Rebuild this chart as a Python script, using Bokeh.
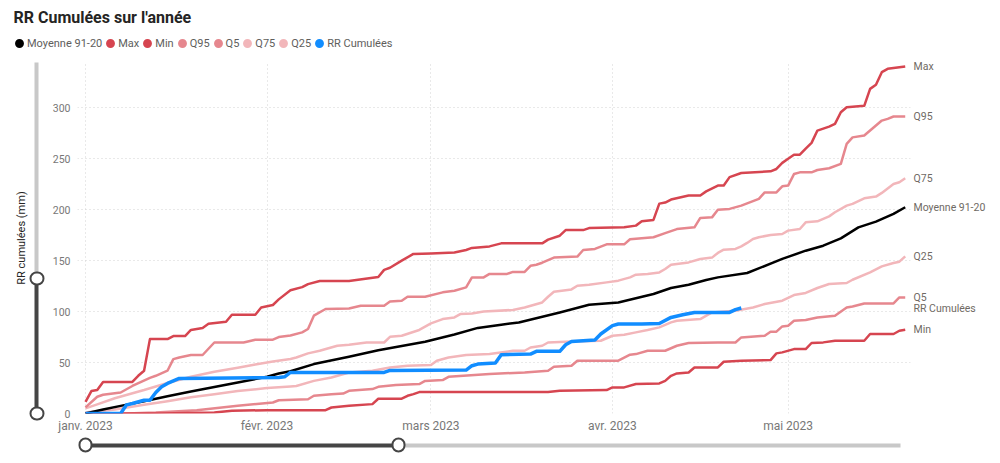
import pandas as pd
from bokeh.plotting import figure
from bokeh.layouts import column
from bokeh.models import (Range1d, FixedTicker, CustomJSTickFormatter, Legend,
                          LegendItem, LinearAxis)
from bokeh.embed import file_html
from bokeh.resources import INLINE

# ---------------- data (day offset from 1 Jan 2023, cumulated rain mm) ----------------
START = "2023-01-01"
MONTH_TICKS = ["2023-01-01", "2023-02-01", "2023-03-01", "2023-04-01", "2023-05-01"]
MONTH_NAMES = ["janv.", "févr.", "mars", "avr.", "mai", "juin",
               "juil.", "août", "sept.", "oct.", "nov.", "déc."]
Y_TICKS = [0, 50, 100, 150, 200, 250, 300]

MOYENNE = [(0, 0), (3, 4), (6, 7.5), (10, 12), (14, 17), (18, 21.5), (22, 26), (26, 30.5),
           (31, 36), (33, 39.3), (35, 41.5), (39, 48.5), (45, 55.7), (50, 62), (58, 70.5),
           (63, 77.5), (67, 84), (71, 87.1), (74, 89.4), (81, 99.2), (86, 106.8), (91, 109),
           (97, 117.3), (100, 123.2), (103, 126.4), (106, 131), (108, 133.6), (113, 137.9),
           (119, 151.7), (123, 159.8), (126, 164.7), (129, 171.9), (132, 182.7), (135, 188.3),
           (138, 195.9), (140, 202.4)]

MAX = [(0, 11.5), (1, 22), (2, 23), (3, 31), (8, 31), (9, 37), (10, 42), (11, 73), (14, 73),
       (15, 76), (17, 76), (18, 82), (20, 84), (21, 88), (24, 90), (25, 97), (29, 97), (30, 104),
       (32, 106.5), (33, 112), (35, 121), (37, 124), (38, 127), (40, 130), (45, 130), (50, 134),
       (51, 141), (52, 143), (54, 150), (56, 156.6), (59, 157), (63, 158), (65, 160.5),
       (66, 162.5), (69, 164), (71, 167), (78, 167), (79, 170.6), (81, 174.5), (82, 180),
       (85, 180), (86, 182), (92, 182.7), (94, 184.4), (95, 188.6), (97, 190), (98, 206),
       (99, 207), (100, 210), (103, 214), (105, 214), (106, 218), (108, 223.7), (109, 223.7),
       (110, 232), (112, 236), (117, 237.7), (118, 240), (119, 246), (120, 250), (121, 254),
       (122, 254), (123, 260), (124, 265.6), (125, 277.7), (127, 281.6), (128, 284.3),
       (129, 295.7), (130, 300.6), (133, 302), (134, 318.6), (135, 322.6), (136, 335),
       (137, 338.3), (140, 340.6)]

MIN = [(0, 0), (13, 0), (22, 1), (25, 2.6), (31, 3.3), (41, 3.3), (42, 5.9), (45, 7.6),
       (49, 9.2), (50, 14.5), (54, 14.5), (55, 17.4), (56, 19), (57, 21), (79, 21), (81, 22.3),
       (89, 23), (90, 25.6), (92, 25.6), (94, 28.9), (98, 29.5), (99, 32), (100, 37),
       (101, 39.3), (103, 40.3), (104, 45.2), (108, 45.2), (109, 50.8), (112, 51.8),
       (117, 52.4), (118, 59), (119, 60), (121, 63.2), (123, 63.2), (124, 69.2), (126, 69.8),
       (128, 71.4), (133, 71.4), (134, 78), (138, 78), (139, 81.2), (140, 82.2)]

Q95 = [(0, 6), (2, 16.4), (3, 18.4), (6, 20.6), (8, 27), (11, 35), (12, 37), (14, 42),
       (15, 53.4), (16, 55), (18, 57.4), (20, 57.4), (22, 69.7), (27, 69.7), (29, 72.4),
       (32, 72.4), (33, 75), (35, 76.5), (37, 79.6), (38, 82.9), (39, 96), (41, 102.6),
       (45, 103), (47, 105.8), (51, 105.8), (52, 110), (54, 110.7), (55, 114.6), (58, 114.6),
       (61, 118.9), (63, 120.5), (65, 123.8), (66, 133.6), (68, 133.6), (69, 137), (72, 137),
       (73, 139), (75, 139), (76, 145), (77, 146), (78, 148), (80, 153), (84, 154),
       (85, 160.5), (87, 161.5), (89, 166), (92, 166), (93, 171), (97, 173), (99, 177),
       (101, 181), (104, 182.7), (105, 192), (107, 192.5), (108, 200), (110, 200.8),
       (112, 204), (115, 210.6), (116, 217), (118, 217), (119, 223), (120, 223.7), (121, 235),
       (122, 236.7), (124, 236.7), (125, 239), (127, 240.7), (129, 245), (130, 264.6),
       (131, 271), (133, 272.8), (134, 277.7), (136, 287.5), (137, 289.2), (138, 291.5),
       (140, 291.5)]

Q5 = [(0, 0), (7, 0), (12, 1), (19, 3.3), (26, 7.6), (32, 10.8), (33, 13), (38, 14),
      (39, 17.4), (42, 19), (44, 19.6), (45, 22.3), (49, 24), (50, 26.2), (53, 27.9),
      (57, 28.9), (58, 32), (61, 32.8), (62, 36), (69, 38.7), (75, 40.3), (79, 42), (80, 45.9),
      (83, 46.9), (84, 51.8), (91, 51.8), (93, 57.7), (94, 58.3), (96, 61.6), (99, 61.6),
      (101, 66.5), (103, 69.2), (108, 69.7), (111, 69.7), (112, 74.7), (116, 76.3),
      (117, 80.3), (118, 80.3), (119, 85.5), (120, 86.2), (121, 91), (123, 91.7), (125, 94.3),
      (128, 96), (130, 104.1), (131, 105.1), (133, 108), (138, 108), (139, 113.9), (140, 113.9)]

Q75 = [(0, 5), (2, 9), (5, 15), (10, 23), (14, 30), (18, 36), (22, 41), (26, 45), (29, 48),
       (32, 51), (35, 53.5), (36, 55), (38, 59), (40, 61.6), (43, 66.5), (45, 67.5), (48, 69.7),
       (51, 69.7), (52, 75.3), (54, 76.3), (57, 82), (59, 88.4), (61, 92.7), (63, 94.3),
       (64, 97.6), (66, 98.2), (68, 100.2), (73, 101.6), (75, 104), (78, 109), (79, 114.6),
       (80, 119.5), (83, 121.8), (84, 125.4), (86, 126.4), (89, 128.7), (91, 130.4),
       (93, 133.6), (94, 136.2), (96, 137), (98, 138.5), (99, 141.8), (100, 146), (103, 148.3),
       (105, 151.7), (107, 153), (108, 157.6), (109, 160.8), (111, 161.5), (112, 164),
       (113, 167.4), (114, 171.3), (115, 173), (117, 175.2), (119, 176.2), (120, 179.5),
       (122, 181.1), (123, 187.6), (125, 188.6), (127, 193.5), (128, 197.5), (130, 204),
       (131, 205.7), (133, 211.2), (135, 212.9), (136, 216.5), (138, 225.3), (139, 227),
       (140, 230.9)]

Q25 = [(0, 1), (5, 4), (10, 8.5), (14, 12), (18, 16), (22, 19), (26, 22), (31, 25),
       (35, 26.5), (36, 27), (39, 32), (42, 35.4), (45, 40.3), (49, 42), (52, 45.2), (55, 46.9),
       (59, 47.5), (60, 51.8), (62, 55), (65, 57.5), (69, 58.3), (73, 61.6), (75, 61.6),
       (76, 64.8), (78, 66.5), (79, 69.7), (83, 70.7), (88, 71.4), (90, 76.3), (92, 77.3),
       (94, 79.6), (96, 81.9), (98, 84.5), (100, 89.4), (101, 91), (105, 92.7), (107, 99.2),
       (111, 100.9), (114, 104.1), (116, 107.5), (119, 110.7), (121, 116.3), (123, 118.3),
       (125, 123.2), (127, 127.1), (130, 128.1), (131, 131.3), (134, 138.5), (136, 144.4),
       (138, 147.7), (139, 149), (140, 154.2)]

RR = [(0, 0), (6, 0), (7, 8.5), (8, 9.8), (10, 13), (11, 13), (12, 20.6), (13, 26.2),
      (14, 29.5), (16, 34.4), (33, 35.4), (34, 36), (35, 40.3), (51, 40.3), (52, 42.3),
      (65, 42.6), (66, 46.9), (67, 48.5), (70, 49.5), (71, 57.7), (76, 58.3), (77, 61),
      (81, 61), (82, 67.5), (83, 70.7), (87, 72.1), (88, 78), (90, 86.2), (91, 87.8),
      (95, 87.8), (98, 88.4), (100, 94.3), (102, 96.9), (104, 99.2), (110, 99.2),
      (111, 101.9), (112, 103.5)]

# zoom-slider state shown by the report (x in days, y in mm)
X_SLIDER = (0, 53.5, 139.2)     # selection start, selection end, track end
Y_SLIDER = (0, 132.5, 344.5)

# ---------------- styling ----------------
C_DARK = "#D64550"
C_MID = "#E6878E"
C_LIGHT = "#F2B6BA"
C_BLUE = "#118DFF"
C_BLACK = "#000000"
FONT = "Roboto"
SL_DARK, SL_LIGHT = "#454545", "#C8C8C8"

# (name, data, color, width) in drawing order
SERIES = [
    ("Q25", Q25, C_LIGHT, 2.5),
    ("Q75", Q75, C_LIGHT, 2.5),
    ("Q5", Q5, C_MID, 2.5),
    ("Q95", Q95, C_MID, 2.5),
    ("Min", MIN, C_DARK, 2.5),
    ("Max", MAX, C_DARK, 2.5),
    ("Moyenne 91-20", MOYENNE, C_BLACK, 2.5),
    ("RR Cumulées", RR, C_BLUE, 3.5),
]
LEGEND_ORDER = ["Moyenne 91-20", "Max", "Min", "Q95", "Q5", "Q75", "Q25", "RR Cumulées"]

t0 = pd.Timestamp(START)
X_START = t0 - pd.Timedelta(days=1.37)
X_END = t0 + pd.Timedelta(days=140.9)
Y_END = 344.5


def day_ms(d):
    return (t0 + pd.Timedelta(days=d)).value / 1e6


def to_xy(pairs):
    return [t0 + pd.Timedelta(days=d) for d, _ in pairs], [v for _, v in pairs]


# ================= header: title + legend =================
head = figure(width=1000, height=55, x_range=Range1d(0, 1), y_range=Range1d(0, 1),
              x_axis_location=None, y_axis_location=None,
              output_backend="svg", toolbar_location=None, min_border=0)
try:
    head.frame_align = False
except AttributeError:
    pass
head.grid.visible = False
head.outline_line_color = None
head.background_fill_color = "white"
head.border_fill_color = "white"
head.title.text = "RR Cumulées sur l'année"
head.title.text_font = FONT
head.title.text_font_size = "16px"
head.title.text_font_style = "bold"
head.title.text_color = "#252423"
head.title.align = "left"
head.title.offset = 13

colors = {n: c for n, _, c, _ in SERIES}
NAN = float("nan")
items = []
for name in LEGEND_ORDER:
    # legend swatch only: a single undefined point, nothing is drawn in the frame
    r = head.scatter(x=[NAN], y=[NAN], marker="circle", size=9, fill_color=colors[name],
                     line_color=colors[name], line_width=2.5)
    items.append(LegendItem(label=name, renderers=[r]))
legend = Legend(items=items, orientation="horizontal", location=(11, 1),
                glyph_width=16, glyph_height=22, label_height=18, label_width=0,
                label_standoff=0, spacing=0, padding=0, margin=0, border_line_color=None,
                background_fill_alpha=0, label_text_font=FONT, label_text_font_size="11px",
                label_text_color="#605E5C")
head.add_layout(legend)

# ================= main chart =================
p = figure(width=1000, height=408, x_axis_type="datetime",
           x_range=Range1d(X_START, X_END), y_range=Range1d(0, Y_END),
           output_backend="svg", toolbar_location=None,
           min_border_left=77, min_border_right=90, min_border_top=7, min_border_bottom=50)
try:
    p.frame_align = False
except AttributeError:
    pass
p.outline_line_color = None
p.background_fill_color = "white"
p.border_fill_color = "white"

month_ms = [pd.Timestamp(m).value / 1e6 for m in MONTH_TICKS]
xt = FixedTicker(ticks=month_ms)
p.xaxis.ticker = xt
p.xaxis.formatter = CustomJSTickFormatter(args=dict(names=MONTH_NAMES), code="""
    const d = new Date(tick);
    return names[d.getUTCMonth()] + " " + d.getUTCFullYear();
""")
p.yaxis.ticker = FixedTicker(ticks=Y_TICKS)
for ax in (p.xaxis[0], p.yaxis[0]):
    ax.axis_line_color = None
    ax.major_tick_line_color = None
    ax.major_tick_out = 0
    ax.major_tick_in = 0
    ax.minor_tick_line_color = None
    ax.minor_tick_out = 0
    ax.major_label_text_font = FONT
    ax.major_label_text_color = "#777777"
p.xaxis.major_label_text_font_size = "12px"
p.xaxis.major_label_standoff = 5
p.yaxis.major_label_text_font_size = "10.5px"
p.yaxis.major_label_standoff = 7

p.xgrid.ticker = xt
p.ygrid.ticker = FixedTicker(ticks=Y_TICKS)
for g in (p.xgrid[0], p.ygrid[0]):
    g.grid_line_color = "#D2D2D2"
    g.grid_line_dash = "1 3"
    g.grid_line_width = 1

ends_v, ends_n = [], []
for name, data, color, width in SERIES:
    xs, ys = to_xy(data)
    p.line(x=xs, y=ys, line_color=color, line_width=width, line_join="round")
    ends_v.append(ys[-1])
    ends_n.append(name)

# series names at the right end (a right axis ticked at each series' last value)
rax = LinearAxis(ticker=FixedTicker(ticks=ends_v),
                 formatter=CustomJSTickFormatter(args=dict(vals=ends_v, names=ends_n), code="""
    for (let i = 0; i < vals.length; i++) { if (Math.abs(vals[i] - tick) < 1e-6) return names[i]; }
    return "";
"""))
rax.axis_line_color = None
rax.major_tick_line_color = None
rax.major_tick_out = 0
rax.major_tick_in = 0
rax.minor_tick_line_color = None
rax.minor_tick_out = 0
rax.major_label_standoff = 3
rax.major_label_text_font = FONT
rax.major_label_text_font_size = "10.5px"
rax.major_label_text_color = "#6F6A64"
p.add_layout(rax, "right")


# ---- zoom sliders drawn as extra (decorative) axes stacked outside the main axes ----
def deco_axis(ticks=(), bounds="auto", line_color=None, spacer=0, spacer_at=None,
              dots=False, label=None):
    if dots:
        ticker = FixedTicker(ticks=list(ticks), minor_ticks=list(ticks))
    elif spacer:
        ticker = FixedTicker(ticks=[spacer_at], minor_ticks=[])
    else:
        ticker = FixedTicker(ticks=[], minor_ticks=[])
    ax = LinearAxis(ticker=ticker, bounds=bounds,
                    formatter=CustomJSTickFormatter(code='return "";'))
    ax.major_label_text_font_size = "0px"
    ax.major_label_standoff = 0
    ax.axis_line_color = line_color
    ax.axis_line_width = 4
    ax.major_tick_out = spacer
    ax.major_tick_in = 1 if dots else 0
    ax.minor_tick_out = 0
    ax.minor_tick_in = 1 if dots else 0
    if dots:
        ax.major_tick_line_color = SL_DARK
        ax.major_tick_line_width = 14
        ax.major_tick_line_cap = "round"
        ax.minor_tick_line_color = "white"
        ax.minor_tick_line_width = 10
        ax.minor_tick_line_cap = "round"
    else:
        # spacer: one white tick on the white border, only its length matters
        ax.major_tick_line_color = "white" if spacer else None
        ax.major_tick_line_width = 1
        ax.minor_tick_line_color = None
    if label:
        ax.axis_label = label
        ax.axis_label_text_font = FONT
        ax.axis_label_text_font_size = "11px"
        ax.axis_label_text_font_style = "normal"
        ax.axis_label_text_color = "#252423"
        ax.axis_label_standoff = 9
    return ax


# vertical slider (left of the y tick labels) + y axis title
p.add_layout(deco_axis(spacer=13, spacer_at=Y_END), "left")
p.add_layout(deco_axis(bounds=(Y_SLIDER[1], Y_SLIDER[2]), line_color=SL_LIGHT), "left")
p.add_layout(deco_axis(ticks=[Y_SLIDER[0] + 0.01, Y_SLIDER[1] - 0.01],
                       bounds=(Y_SLIDER[0], Y_SLIDER[1]), line_color=SL_DARK, dots=True,
                       label="RR cumulées (mm)"), "left")

# horizontal slider (under the month labels)
p.add_layout(deco_axis(spacer=10, spacer_at=X_END.value / 1e6), "below")
p.add_layout(deco_axis(bounds=(day_ms(X_SLIDER[1]), day_ms(X_SLIDER[2])), line_color=SL_LIGHT),
             "below")
p.add_layout(deco_axis(ticks=[day_ms(X_SLIDER[0]) + 1, day_ms(X_SLIDER[1]) - 1],
                       bounds=(day_ms(X_SLIDER[0]), day_ms(X_SLIDER[1])), line_color=SL_DARK,
                       dots=True), "below")

layout = column(head, p)
open("out.html", "w").write(file_html(layout, INLINE))
